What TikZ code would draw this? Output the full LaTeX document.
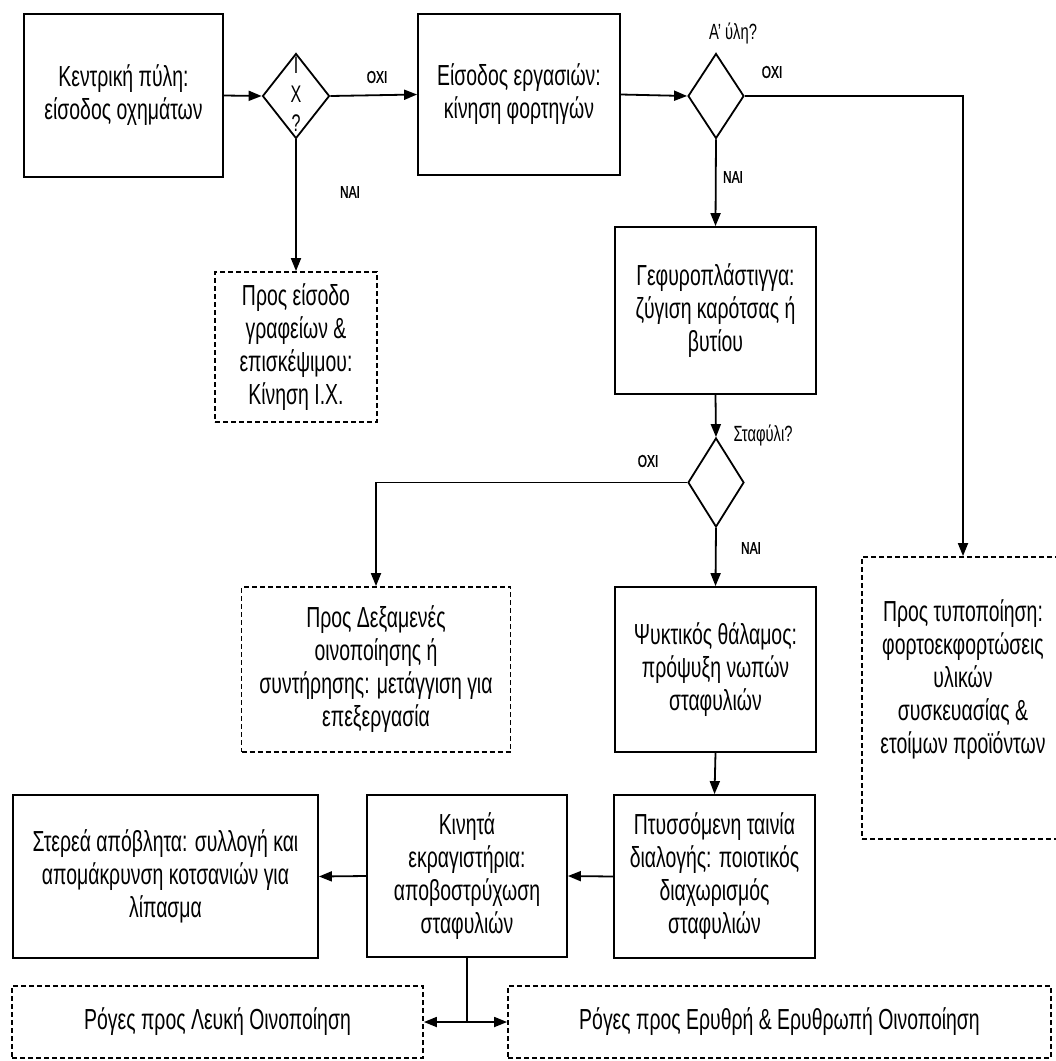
\documentclass[tikz,border=0pt]{standalone}
\usepackage{fontspec}
\setmainfont[FakeStretch=0.67]{Liberation Sans}
\newfontfamily\labfont[FakeStretch=0.7,FakeBold=1.2]{Liberation Sans}
\usetikzlibrary{arrows.meta,shapes.geometric}

\begin{document}
\begin{tikzpicture}[x=1pt,y=-1pt,
  txt/.style={font=\fontsize{29}{33}\selectfont, align=center},
  box/.style={draw, line width=1.8pt, txt, inner sep=0pt},
  dbox/.style={box, dash pattern=on 5pt off 3pt},
  dec/.style={draw, diamond, line width=1.8pt, inner sep=0pt},
  lab/.style={font=\labfont\fontsize{17}{19}\selectfont, inner sep=0pt},
  qlab/.style={font=\fontsize{22}{24}\selectfont, inner sep=0pt},
  arr/.style={line width=1.8pt, -{Triangle[length=13pt,width=10pt]}},
  link/.style={line width=1.8pt}]

\clip (0,0) rectangle (1056,1061);
\fill[white] (0,0) rectangle (1056,1061);

% top row
\node[box, minimum width=199pt, minimum height=163pt] (gate) at (123.5,95.5)
  {Κεντρική πύλη:\\είσοδος οχημάτων};
\node[dec, minimum width=67pt, minimum height=85pt] (q1) at (296,96) {};
\node[txt, font=\fontsize{24}{29}\selectfont, inner sep=0pt] (q1t) at (296,94) {Ι\\Χ\\?};
\node[box, minimum width=202pt, minimum height=161pt] (works) at (519,94.5)
  {Είσοδος εργασιών:\\κίνηση φορτηγών};
\node[dec, minimum width=56pt, minimum height=85pt] (q2) at (716,96) {};

% second row
\node[dbox, minimum width=162pt, minimum height=150pt] (cars) at (296,347)
  {Προς είσοδο\\γραφείων \&\\επισκέψιμου:\\Κίνηση Ι.Χ.};
\node[box, minimum width=201pt, minimum height=167pt] (scale) at (715.5,310.5)
  {Γεφυροπλάστιγγα:\\ζύγιση καρότσας ή\\βυτίου};
\node[dec, minimum width=56pt, minimum height=89pt] (q3) at (716,482.5) {};

% third row
\node[dbox, minimum width=269pt, minimum height=165pt] (tanks) at (376,669.5)
  {Προς Δεξαμενές\\οινοποίησης ή\\συντήρησης: μετάγγιση για\\επεξεργασία};
\node[box, minimum width=201pt, minimum height=165pt] (cool) at (715.5,669.5)
  {Ψυκτικός θάλαμος:\\πρόψυξη νωπών\\σταφυλιών};
\node[dbox, minimum width=202pt, minimum height=282pt,
  label={[txt, yshift=18pt]center:Προς τυποποίηση:\\φορτοεκφορτώσεις\\υλικών\\συσκευασίας \&\\ετοίμων προϊόντων}]
  (pack) at (963,698) {};

% fourth row
\node[box, minimum width=201pt, minimum height=163pt] (sort) at (714.5,876.5)
  {Πτυσσόμενη ταινία\\διαλογής: ποιοτικός\\διαχωρισμός\\σταφυλιών};
\node[box, minimum width=200pt, minimum height=162pt] (stem) at (467,876)
  {Κινητά\\εκραγιστήρια:\\αποβοστρύχωση\\σταφυλιών};
\node[box, minimum width=305pt, minimum height=163pt] (waste) at (165.5,876.5)
  {Στερεά απόβλητα: συλλογή και\\απομάκρυνση κοτσανιών για\\λίπασμα};

% bottom row
\node[dbox, minimum width=411pt, minimum height=72pt] (white) at (217.5,1022)
  {Ρόγες προς Λευκή Οινοποίηση};
\node[dbox, minimum width=543pt, minimum height=72pt] (red) at (779.5,1022)
  {Ρόγες προς Ερυθρή \& Ερυθρωπή Οινοποίηση};

% connectors
\draw[arr] (gate.east) -- (q1.west);
\draw[arr] (q1.east) -- (works.west);
\draw[arr] (q1.south) -- (cars.north);
\draw[arr] (works.east) -- (q2.west);
\draw[arr] (q2.south) -- (scale.north);
\draw[arr] (q2.east) -| (pack.north);
\draw[arr] (scale.south) -- (q3.north);
\draw[arr] (q3.west) -| (tanks.north);
\draw[arr] (q3.south) -- (cool.north);
\draw[arr] (cool.south) -- (sort.north);
\draw[arr] (sort.west) -- (stem.east);
\draw[arr] (stem.west) -- (waste.east);
\draw[link] (stem.south) -- (stem.south |- white.east) coordinate (split);
\draw[line width=1.8pt, {Triangle[length=13pt,width=10pt]}-{Triangle[length=13pt,width=10pt]}]
  (white.east) -- (red.west);

% branch labels
\node[lab] (no1) at (377,77) {ΟΧΙ};
\node[lab] (yes1) at (350,192) {ΝΑΙ};
\node[qlab] (raw) at (733,33) {Α' ύλη?};
\node[lab] (no2) at (772,72) {ΟΧΙ};
\node[lab] (yes2) at (733,177) {ΝΑΙ};
\node[qlab] (grape) at (763,435) {Σταφύλι?};
\node[lab] (no3) at (648,461) {ΟΧΙ};
\node[lab] (yes3) at (751,548) {ΝΑΙ};
\end{tikzpicture}
\end{document}
